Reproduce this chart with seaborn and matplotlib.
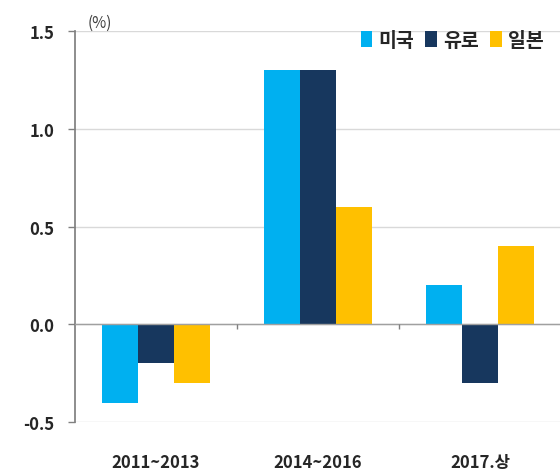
import pandas as pd
import seaborn as sns
import matplotlib.pyplot as plt
import numpy as np

# chart data
periods = ['2011~2013', '2014~2016', '2017.상']
countries = ['미국', '유로', '일본']
us = [-0.4, 1.3, 0.2]
euro = [-0.2, 1.3, -0.3]
japan = [-0.3, 0.6, 0.4]
colors = ['#00B0F0', '#17375E', '#FFC000']

df = pd.DataFrame({
    'period': periods * 3,
    'country': [c for c in countries for _ in periods],
    'value': us + euro + japan,
})

sns.set_theme(style='white')
plt.rcParams['font.family'] = ['Noto Sans CJK KR', 'DejaVu Sans']

fig = plt.figure(figsize=(5.6, 4.77), dpi=100)
ax = fig.add_axes([0.134, 0.113, 0.868, 0.82])

sns.barplot(data=df, x='period', y='value', hue='country', palette=colors,
            width=0.667, gap=0, saturation=1, errorbar=None, linewidth=0,
            ax=ax, zorder=3)

ax.set_ylim(-0.5, 1.5)
ax.set_xlim(-0.5, 2.5)
ax.set_yticks([-0.5, 0.0, 0.5, 1.0, 1.5])
ax.set_yticklabels(['-0.5', '0.0', '0.5', '1.0', '1.5'], fontsize=12, fontweight='bold')
ax.yaxis.grid(True, color='#D9D9D9', lw=1)
ax.set_axisbelow(True)
ax.tick_params(axis='y', left=True, length=5, width=1, color='#808080', pad=10)

ax.set_xticks(range(len(periods)))
ax.set_xticklabels(periods, fontsize=12, fontweight='bold')
ax.tick_params(axis='x', bottom=False, pad=16)

for s in ['top', 'right', 'bottom']:
    ax.spines[s].set_visible(False)
ax.spines['left'].set_color('#808080')

# zero line with category separators
ax.axhline(0, color='#A0A0A0', lw=1, zorder=4)
ax.vlines([0.5, 1.5], -0.025, 0, color='#808080', lw=1, zorder=4)

ax.set_xlabel('')
ax.set_ylabel('')
ax.text(0.025, 1.0, '(%)', transform=ax.transAxes, fontsize=11, va='bottom', color='#404040')

ax.legend(loc='upper right', bbox_to_anchor=(1.0, 1.045), ncol=3, frameon=False,
          handlelength=0.6, handleheight=0.9, handletextpad=0.3, columnspacing=0.6,
          prop={'size': 14, 'weight': 'bold'})

plt.savefig('out.png', dpi=100)
